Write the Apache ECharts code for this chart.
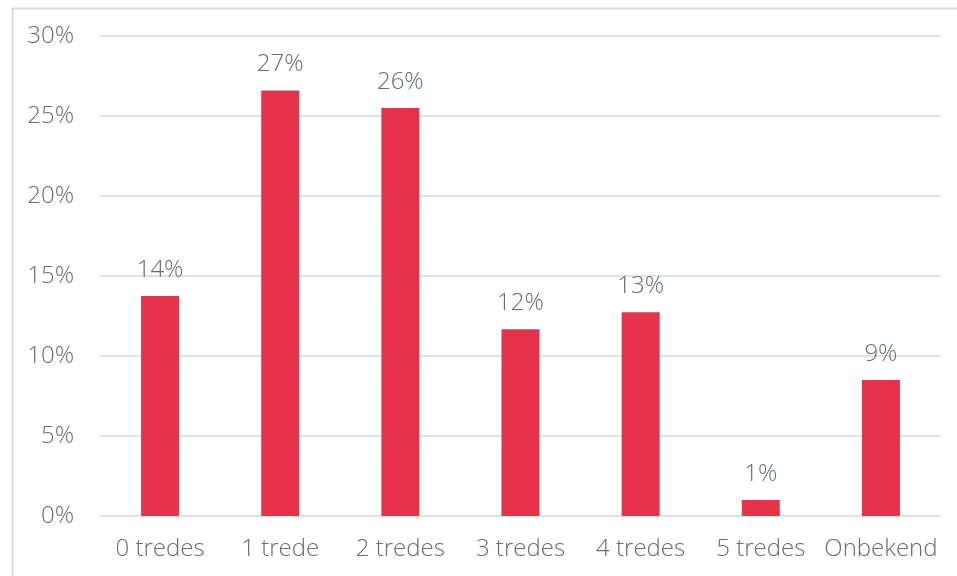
<!DOCTYPE html>
<html>
<head>
<meta charset="utf-8">
<script src="https://cdn.jsdelivr.net/npm/echarts@6/dist/echarts.min.js"></script>
<style>html,body{margin:0;padding:0;background:#fff;}#c{width:957px;height:576px;}</style>
</head>
<body>
<div id="c"></div>
<script>
var categories = ['0 tredes', '1 trede', '2 tredes', '3 tredes', '4 tredes', '5 tredes', 'Onbekend'];
var values = [13.75, 26.6, 25.5, 11.67, 12.73, 1.0, 8.5];

var textColor = '#616d77';
var font = '"Open Sans", Lato, sans-serif';
var chart = echarts.init(document.getElementById('c'));
chart.setOption({
  animation: false,
  graphic: [{
    type: 'rect', left: 10, top: 6, silent: true,
    shape: { width: 1000, height: 620 },
    style: { fill: 'none', stroke: '#dcdcdc', lineWidth: 2 }
  }],
  grid: { left: 100, right: 16, top: 36, bottom: 60 },
  xAxis: {
    type: 'category',
    data: categories,
    axisLine: { show: false },
    axisTick: { show: false },
    axisLabel: { color: textColor, fontSize: 24, fontWeight: 300, fontFamily: font, margin: 21, interval: 0 }
  },
  yAxis: {
    type: 'value', min: 0, max: 30, interval: 5,
    axisLine: { show: false },
    axisTick: { show: false },
    splitLine: { lineStyle: { color: '#dfe3e6', width: 2 } },
    axisLabel: { color: textColor, fontSize: 24, fontWeight: 300, fontFamily: font, margin: 26,
      formatter: function (v) { return v + '%'; } }
  },
  series: [{
    type: 'bar',
    data: values,
    barWidth: 38,
    itemStyle: { color: '#e5334b' },
    label: {
      show: true, position: 'top', distance: 14,
      color: textColor, fontSize: 24, fontWeight: 300, fontFamily: font,
      formatter: function (p) { return Math.round(p.value) + '%'; }
    }
  }]
});
</script>
</body>
</html>
